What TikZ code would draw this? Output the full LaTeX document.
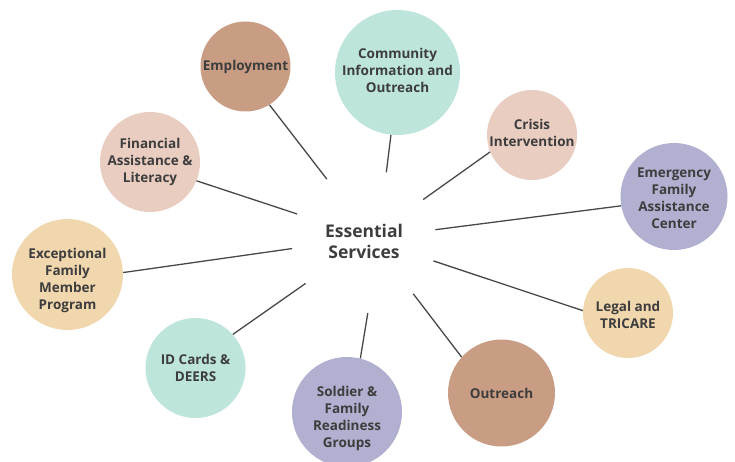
\documentclass[tikz,border=0pt]{standalone}
\usepackage{fontspec}
\setmainfont{Open Sans}
\definecolor{cbrown}{HTML}{C99D84}
\definecolor{cmint}{HTML}{BEE5DB}
\definecolor{cpink}{HTML}{EACDC1}
\definecolor{clav}{HTML}{B1B0D0}
\definecolor{cbeige}{HTML}{F1D7AE}
\definecolor{ctext}{HTML}{3D3D3D}
\definecolor{cline}{HTML}{484848}
\tikzset{
  btext/.style={align=center, text=ctext, inner sep=0pt,
    font=\bfseries\fontsize{13.5}{17}\selectfont},
  bubble/.style={circle, inner sep=0pt, btext},
  hub/.style={circle, inner sep=0pt, minimum size=144pt, align=center, text=ctext,
    font=\bfseries\fontsize{17.5}{21}\selectfont},
  spoke/.style={draw=cline, line width=1.3pt}
}
\begin{document}
\begin{tikzpicture}[x=1pt, y=-1pt]
\useasboundingbox (0,0) rectangle (735,462);
\node[hub] (c) at (364,241) {Essential\\Services};
\node[bubble, fill=cbrown, minimum size=90pt] (emp) at (245.5,66.5) {Employment};
\node[bubble, fill=cmint, minimum size=125pt, label={[btext, yshift=2pt]center:{Community\\Information and\\Outreach}}] (com) at (397.5,72.5) {};
\node[bubble, fill=cpink, minimum size=90pt, label={[btext, yshift=2pt]center:{Crisis\\Intervention}}] (cri) at (532,135) {};
\node[bubble, fill=clav, minimum size=107pt, label={[btext, yshift=-2pt]center:{Emergency\\Family\\Assistance\\Center}}] (eme) at (674,196.5) {};
\node[bubble, fill=cbeige, minimum size=90pt, label={[btext, yshift=-2pt]center:{Legal and\\TRICARE}}] (leg) at (628,313) {};
\node[bubble, fill=cbrown, minimum size=107pt] (out) at (501.5,393) {Outreach};
\node[bubble, fill=clav, minimum size=110pt, label={[btext, yshift=-6pt]center:{Soldier \&\\Family\\Readiness\\Groups}}] (sol) at (347,412) {};
\node[bubble, fill=cmint, minimum size=100pt] (idc) at (195.5,368) {ID Cards \&\\DEERS};
\node[bubble, fill=cbeige, minimum size=111pt, label={[btext, yshift=-6pt]center:{Exceptional\\Family\\Member\\Program}}] (exc) at (67.5,274.5) {};
\node[bubble, fill=cpink, minimum size=100pt] (fin) at (150,162) {Financial\\Assistance \&\\Literacy};
\draw[spoke] (c.121.7) -- (emp.-58.2);
\draw[spoke] (c.72.5) -- (com.-96);
\draw[spoke] (c.35.4) -- (cri.202);
\draw[spoke] (c.9.6) -- (eme.190);
\draw[spoke] (c.-16) -- (leg.177.5);
\draw[spoke] (c.-47.2) -- (out.138.5);
\draw[spoke] (c.-87.6) -- (sol.76.5);
\draw[spoke] (c.-144.1) -- (idc.42);
\draw[spoke] (c.186.3) -- (exc.2.6);
\draw[spoke] (c.158) -- (fin.-22);
\end{tikzpicture}
\end{document}
